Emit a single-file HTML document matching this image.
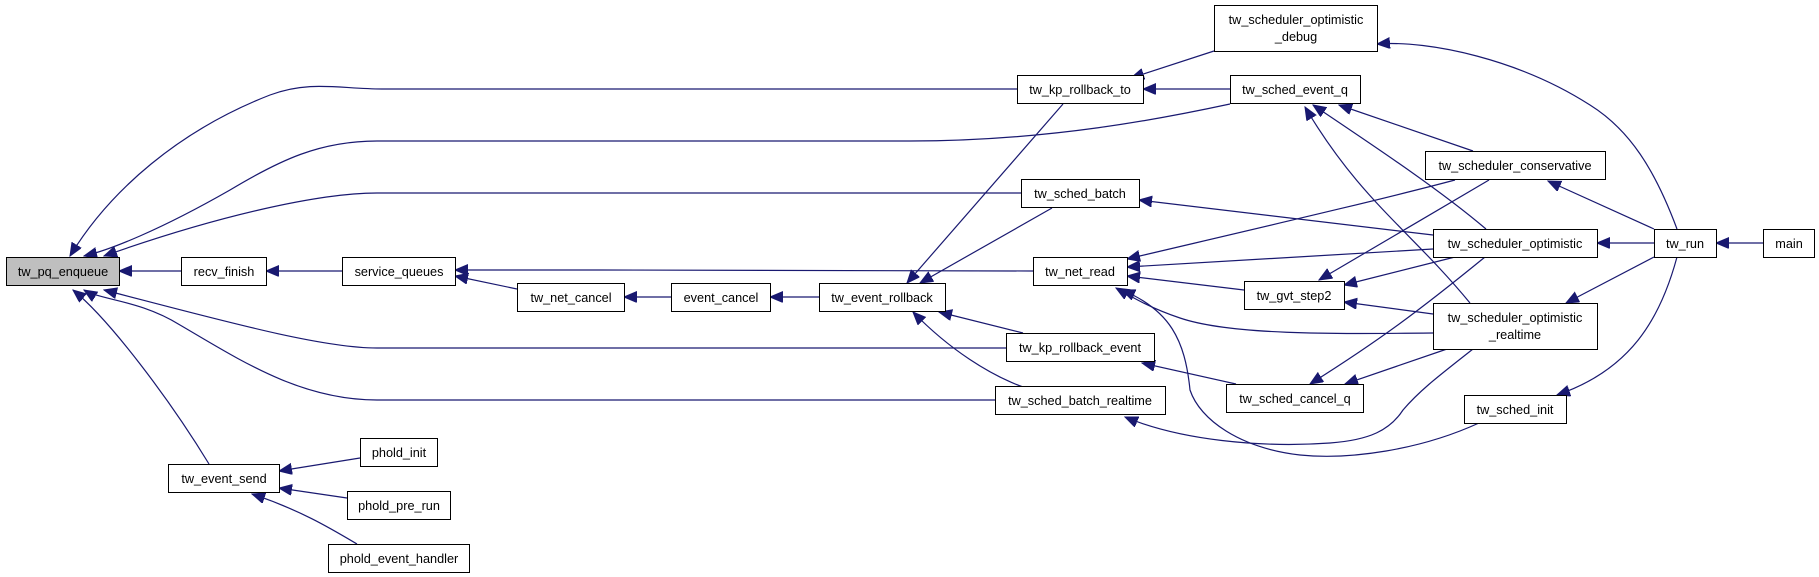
<!DOCTYPE html>
<html><head><meta charset="utf-8"><style>
html,body{margin:0;padding:0;background:#fff;}
svg{display:block;}
text{font-family:"Liberation Sans",sans-serif;font-size:12.7px;fill:#000;}
</style></head><body>
<svg width="1819" height="577" viewBox="0 0 1819 577" xmlns="http://www.w3.org/2000/svg">
<defs>
<marker id="a" markerWidth="14" markerHeight="12" refX="13" refY="5.5" orient="auto" markerUnits="userSpaceOnUse">
<path d="M0,0 L13,5.5 L0,11 z" fill="#191970" stroke="#191970"/>
</marker>
</defs>
<g fill="none" stroke="#191970" stroke-width="1.2" marker-end="url(#a)">
<path d="M181,271 L119,271"/>
<path d="M342,271 L266,271"/>
<path d="M517,289 L455,276"/>
<path d="M671,297 L624,297"/>
<path d="M819,297 L770,297"/>
<path d="M1033,271 L600,270 L455,270"/>
<path d="M1017,89 L383,89 C340,89 310,80 270,95 C180,130 110,190 70,256"/>
<path d="M1230,104 C1165,118 1050,141 910,141 L377,141 C320,141 280,160 230,190 C160,230 110,250 84,256"/>
<path d="M1021,193 L377,193 C320,193 220,215 104,256"/>
<path d="M1006,348 L377,348 C320,348 220,320 104,290"/>
<path d="M995,400 L377,400 C300,400 240,360 180,325 C140,300 100,300 84,290"/>
<path d="M209,464 C170,400 110,320 73,290"/>
<path d="M360,458 L279,471"/>
<path d="M347,498 L279,488"/>
<path d="M357,544 C330,528 300,510 252,494"/>
<path d="M1214,51 L1131,78"/>
<path d="M1230,89 L1143,89"/>
<path d="M1677,229 C1655,170 1630,130 1590,105 C1520,60 1430,40 1377,44" />
<path d="M1063,104 L907,283"/>
<path d="M1052,208 L920,283"/>
<path d="M1023,333 L939,312"/>
<path d="M1023,387 C990,375 950,350 913,312"/>
<path d="M1473,151 L1339,105"/>
<path d="M1486,229 C1440,190 1380,150 1313,105"/>
<path d="M1470,303 C1410,230 1360,200 1305,107"/>
<path d="M1433,235 L1139,200"/>
<path d="M1455,180 C1380,200 1250,230 1127,259"/>
<path d="M1433,249 L1127,267"/>
<path d="M1244,290 L1127,276"/>
<path d="M1433,333 C1330,334 1230,335 1180,318 C1150,308 1130,296 1116,288"/>
<path d="M1479,423 C1420,450 1350,460 1300,455 C1240,448 1200,420 1190,390 C1185,340 1170,310 1122,290"/>
<path d="M1489,180 L1319,280"/>
<path d="M1455,257 L1344,285"/>
<path d="M1433,314 L1344,302"/>
<path d="M1485,257 C1420,310 1380,340 1310,384"/>
<path d="M1447,349 L1345,384"/>
<path d="M1236,384 L1142,363"/>
<path d="M1473,349 C1440,375 1420,390 1403,410 C1390,430 1370,440 1330,443 C1260,448 1180,440 1125,417"/>
<path d="M1654,229 L1548,181"/>
<path d="M1654,243 L1597,243"/>
<path d="M1654,257 L1566,303"/>
<path d="M1677,257 C1660,320 1630,370 1557,395"/>
<path d="M1763,243 L1716,243"/>
</g>
<g stroke="#000" stroke-width="1" fill="#fff">
<rect x="6.5" y="257.5" width="113" height="28" fill="#bfbfbf"/>
<rect x="181.5" y="257.5" width="85" height="28"/>
<rect x="342.5" y="257.5" width="113" height="28"/>
<rect x="517.5" y="283.5" width="107" height="28"/>
<rect x="671.5" y="283.5" width="99" height="28"/>
<rect x="819.5" y="283.5" width="126" height="28"/>
<rect x="168.5" y="464.5" width="111" height="28"/>
<rect x="360.5" y="438.5" width="77" height="28"/>
<rect x="347.5" y="491.5" width="103" height="28"/>
<rect x="328.5" y="544.5" width="141" height="28"/>
<rect x="1214.5" y="5.5" width="163" height="46"/>
<rect x="1017.5" y="75.5" width="126" height="28"/>
<rect x="1230.5" y="75.5" width="130" height="28"/>
<rect x="1425.5" y="151.5" width="180" height="28"/>
<rect x="1021.5" y="179.5" width="118" height="28"/>
<rect x="1033.5" y="257.5" width="94" height="28"/>
<rect x="1244.5" y="281.5" width="100" height="28"/>
<rect x="1433.5" y="229.5" width="164" height="28"/>
<rect x="1433.5" y="303.5" width="164" height="46"/>
<rect x="1006.5" y="333.5" width="148" height="28"/>
<rect x="995.5" y="386.5" width="170" height="28"/>
<rect x="1226.5" y="384.5" width="137" height="28"/>
<rect x="1464.5" y="395.5" width="102" height="28"/>
<rect x="1654.5" y="229.5" width="62" height="28"/>
<rect x="1763.5" y="229.5" width="51" height="28"/>
</g>
<g text-anchor="middle">
<text x="63" y="276">tw_pq_enqueue</text>
<text x="224" y="276">recv_finish</text>
<text x="399" y="276">service_queues</text>
<text x="571" y="302">tw_net_cancel</text>
<text x="721" y="302">event_cancel</text>
<text x="882" y="302">tw_event_rollback</text>
<text x="224" y="483">tw_event_send</text>
<text x="399" y="457">phold_init</text>
<text x="399" y="510">phold_pre_run</text>
<text x="399" y="563">phold_event_handler</text>
<text x="1296" y="24">tw_scheduler_optimistic</text>
<text x="1296" y="41">_debug</text>
<text x="1080" y="94">tw_kp_rollback_to</text>
<text x="1295" y="94">tw_sched_event_q</text>
<text x="1515" y="170">tw_scheduler_conservative</text>
<text x="1080" y="198">tw_sched_batch</text>
<text x="1080" y="276">tw_net_read</text>
<text x="1294" y="300">tw_gvt_step2</text>
<text x="1515" y="248">tw_scheduler_optimistic</text>
<text x="1515" y="322">tw_scheduler_optimistic</text>
<text x="1515" y="339">_realtime</text>
<text x="1080" y="352">tw_kp_rollback_event</text>
<text x="1080" y="405">tw_sched_batch_realtime</text>
<text x="1295" y="403">tw_sched_cancel_q</text>
<text x="1515" y="414">tw_sched_init</text>
<text x="1685" y="248">tw_run</text>
<text x="1789" y="248">main</text>
</g>
</svg>
</body></html>
